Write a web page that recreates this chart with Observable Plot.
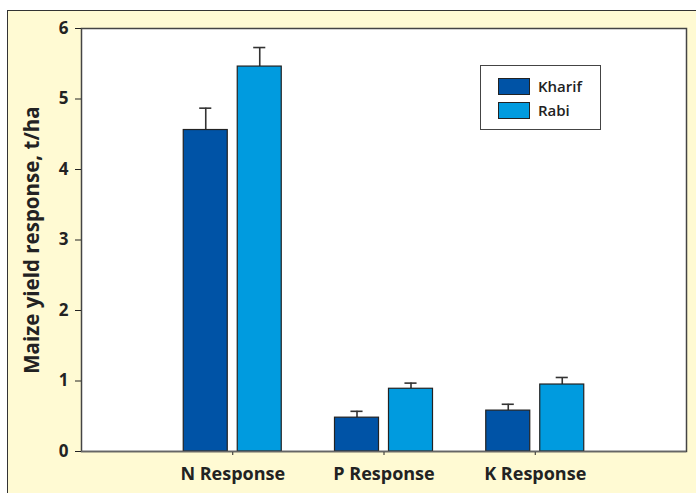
<!DOCTYPE html>
<html><head><meta charset="utf-8">
<script src="https://cdn.jsdelivr.net/npm/d3@7"></script>
<script src="https://cdn.jsdelivr.net/npm/@observablehq/plot@0.6"></script>
<style>
html,body{margin:0;padding:0;background:#fff;overflow:hidden;width:696px;height:493px;}
#outer{position:absolute;left:7px;top:10px;width:700px;height:500px;background:#fffad3;border:1.5px solid #333;box-sizing:border-box;}
#chart{position:absolute;left:0;top:0;}
#chart svg text{font-family:"Open Sans",sans-serif;font-weight:700;fill:#222;}
#legend{position:absolute;left:480px;top:65px;width:121px;height:65px;box-sizing:border-box;border:1.5px solid #444;background:#fff;font-family:"Open Sans",sans-serif;font-weight:600;font-size:15px;color:#222;}
.item{position:absolute;left:17px;display:flex;align-items:center;line-height:17px;}
.sw{width:32px;height:17px;box-sizing:border-box;border:1.2px solid #222;margin-right:8px;}
</style></head>
<body>
<div id="outer"></div>
<div id="chart"></div>
<div id="legend"></div>
<script>
const categories = ["N Response", "P Response", "K Response"];
const series = ["Kharif", "Rabi"];
const kharif = [4.56, 0.48, 0.58];
const kharifErr = [0.31, 0.09, 0.09];
const rabi = [5.46, 0.89, 0.95];
const rabiErr = [0.27, 0.08, 0.10];
const yTicks = [0, 1, 2, 3, 4, 5, 6];
const colors = ["#0053a6", "#009bdf"];

const rows = [];
categories.forEach((c, i) => {
  rows.push({cat: c, pos: i + 1, series: "Kharif", side: -1, value: kharif[i], err: kharifErr[i]});
  rows.push({cat: c, pos: i + 1, series: "Rabi", side: 1, value: rabi[i], err: rabiErr[i]});
});
const outerOff = 0.324, innerOff = 0.033, capHalf = 0.04;
const x1 = d => d.side < 0 ? d.pos - outerOff : d.pos + innerOff;
const x2 = d => d.side < 0 ? d.pos - innerOff : d.pos + outerOff;
const xc = d => (x1(d) + x2(d)) / 2;

const chart = Plot.plot({
  width: 696, height: 493,
  marginLeft: 81, marginRight: 10, marginTop: 28, marginBottom: 42,
  style: {background: "transparent", fontFamily: "Open Sans, sans-serif", fontSize: "17px", color: "#222"},
  x: {domain: [0, 4], label: null},
  y: {domain: [0, 6], label: null},
  color: {domain: series, range: colors},
  marks: [
    Plot.frame({fill: "white", stroke: "#444", strokeWidth: 1.5}),
    Plot.axisY({ticks: yTicks, tickFormat: d3.format("d"), tickSize: 6, tickPadding: 7, fontSize: 17, label: null}),
    Plot.axisX({ticks: [1, 2, 3], tickFormat: d => categories[d - 1], tickSize: 4, tickPadding: 12, fontSize: 18, label: null}),
    Plot.axisY({ticks: [], label: "Maize yield response, t/ha", labelAnchor: "center", labelArrow: "none", labelOffset: 57, fontSize: 20.5}),
    Plot.ruleX(rows, {x: xc, y1: "value", y2: d => d.value + d.err, stroke: "#333", strokeWidth: 1.6}),
    Plot.ruleY(rows, {y: d => d.value + d.err, x1: d => xc(d) - capHalf, x2: d => xc(d) + capHalf, stroke: "#333", strokeWidth: 1.6}),
    Plot.rectY(rows, {x1, x2, y1: 0, y2: "value", fill: "series", stroke: "#222", strokeWidth: 1.2}),
    Plot.ruleY([0], {stroke: "#666", strokeWidth: 1.5})
  ]
});
document.getElementById("chart").appendChild(chart);

const leg = document.getElementById("legend");
series.forEach((s, i) => {
  const it = document.createElement("div");
  it.className = "item";
  it.style.top = (12 + i * 24) + "px";
  it.innerHTML = `<div class="sw" style="background:${colors[i]}"></div><span>${s}</span>`;
  leg.appendChild(it);
});
</script>
</body></html>
